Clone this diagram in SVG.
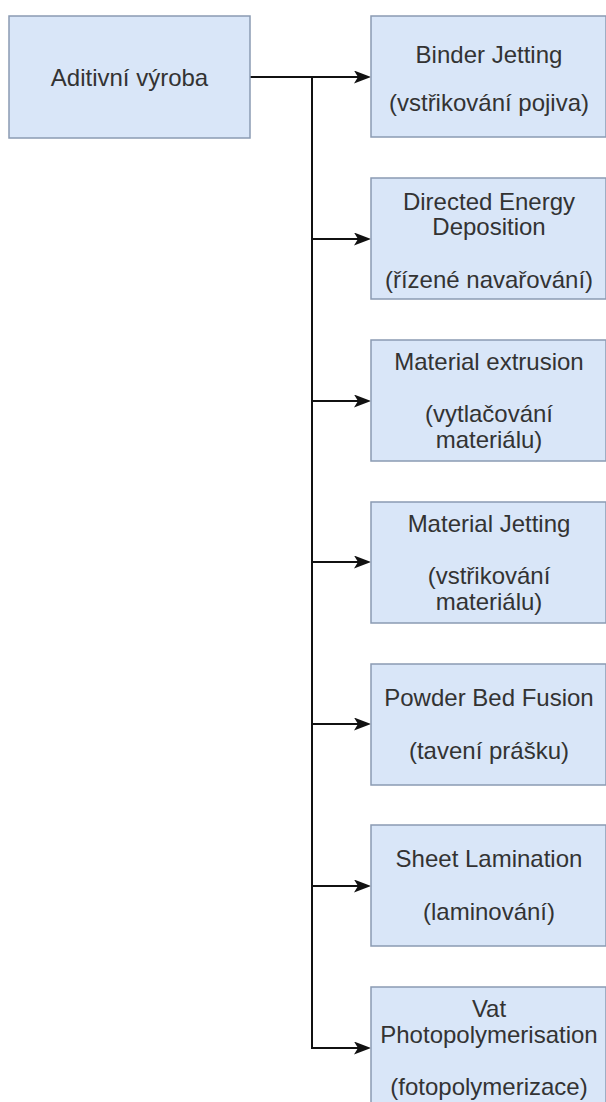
<svg xmlns="http://www.w3.org/2000/svg" width="606" height="1102" viewBox="0 0 606 1102">
<style>
.box{fill:#d9e6f8;stroke:#8a9bb3;stroke-width:1.5}
.t{font-family:"Liberation Sans",Arial,sans-serif;font-size:24px;fill:#333;text-anchor:middle}
.c{fill:none;stroke:#111;stroke-width:2}
</style>
<defs>
<marker id="arr" viewBox="0 0 17 13" markerWidth="17" markerHeight="13" refX="11" refY="6.5" orient="auto" markerUnits="userSpaceOnUse">
<path d="M0,0 L17,6.5 L0,13 L4,6.5 Z" fill="#111"/>
</marker>
</defs>
<g id="connectors">
<path class="c" d="M250,77 H365" marker-end="url(#arr)"/>
<path class="c" d="M312,77 V239 H365" marker-end="url(#arr)"/>
<path class="c" d="M312,77 V401 H365" marker-end="url(#arr)"/>
<path class="c" d="M312,77 V562 H365" marker-end="url(#arr)"/>
<path class="c" d="M312,77 V724 H365" marker-end="url(#arr)"/>
<path class="c" d="M312,77 V886 H365" marker-end="url(#arr)"/>
<path class="c" d="M312,77 V1048 H365" marker-end="url(#arr)"/>
</g>
<g id="source">
<rect class="box" x="9" y="16" width="241" height="122"/>
<text class="t" x="129.5" y="86">Aditivní výroba</text>
</g>
<g id="binder">
<rect class="box" x="371" y="16" width="235" height="121"/>
<text class="t" x="489" y="63">Binder Jetting</text>
<text class="t" x="489" y="111">(vstřikování pojiva)</text>
</g>
<g id="ded">
<rect class="box" x="371" y="178" width="235" height="121"/>
<text class="t" x="489" y="210">Directed Energy</text>
<text class="t" x="489" y="235">Deposition</text>
<text class="t" x="489" y="288">(řízené navařování)</text>
</g>
<g id="extrusion">
<rect class="box" x="371" y="340" width="235" height="121"/>
<text class="t" x="489" y="370">Material extrusion</text>
<text class="t" x="489" y="422">(vytlačování</text>
<text class="t" x="489" y="448">materiálu)</text>
</g>
<g id="mjetting">
<rect class="box" x="371" y="502" width="235" height="121"/>
<text class="t" x="489" y="532">Material Jetting</text>
<text class="t" x="489" y="584">(vstřikování</text>
<text class="t" x="489" y="610">materiálu)</text>
</g>
<g id="pbf">
<rect class="box" x="371" y="664" width="235" height="121"/>
<text class="t" x="489" y="706">Powder Bed Fusion</text>
<text class="t" x="489" y="759">(tavení prášku)</text>
</g>
<g id="sheet">
<rect class="box" x="371" y="825" width="235" height="121"/>
<text class="t" x="489" y="867">Sheet Lamination</text>
<text class="t" x="489" y="920">(laminování)</text>
</g>
<g id="vat">
<rect class="box" x="371" y="987" width="235" height="121"/>
<text class="t" x="489" y="1017">Vat</text>
<text class="t" x="489" y="1043">Photopolymerisation</text>
<text class="t" x="489" y="1095">(fotopolymerizace)</text>
</g>
</svg>
